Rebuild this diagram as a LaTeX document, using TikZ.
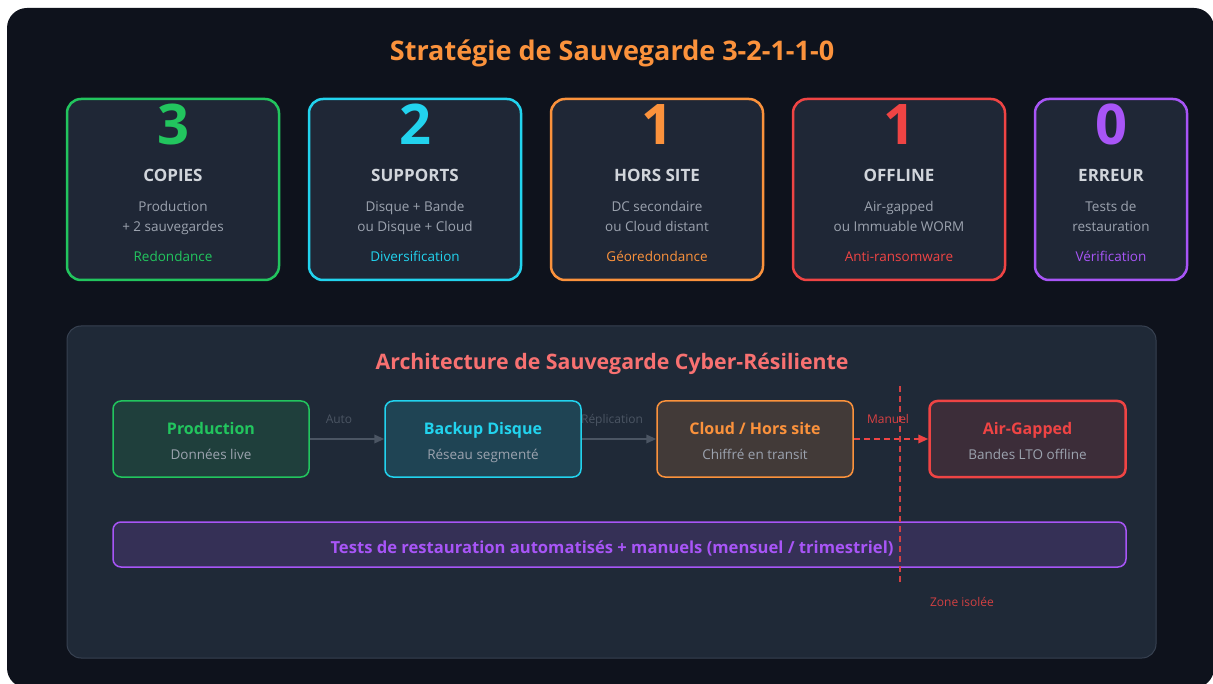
\documentclass[tikz,border=0pt]{standalone}
\usepackage{fontspec}
\setmainfont{Open Sans}
\usetikzlibrary{positioning, arrows.meta, calc}

\definecolor{outerbg}{HTML}{0E121C}
\definecolor{cardbg}{HTML}{1F2736}
\definecolor{panelbg}{HTML}{1F2937}
\definecolor{panelline}{HTML}{374151}
\definecolor{cgreen}{HTML}{22C55E}
\definecolor{ccyan}{HTML}{22D3EE}
\definecolor{corange}{HTML}{FB923C}
\definecolor{cred}{HTML}{EF4444}
\definecolor{cpurple}{HTML}{A855F7}
\definecolor{csalmon}{HTML}{F87171}
\definecolor{headtxt}{HTML}{D1D5DB}
\definecolor{bodytxt}{HTML}{9CA3AF}
\definecolor{flowgray}{HTML}{4B5563}

\begin{document}
\begin{tikzpicture}[
x=1pt, y=-1pt,
    txt/.style={inner sep=0pt, anchor=base},
    card/.style={rectangle, draw, line width=2.5pt, rounded corners=14pt, fill=cardbg, minimum width=212pt, minimum height=181pt},
    bignum/.style={txt, font=\fontsize{56}{60}\selectfont\bfseries},
    cardhead/.style={txt, text=headtxt, font=\fontsize{17}{20}\selectfont\bfseries},
    cardbody/.style={txt, text=bodytxt, font=\fontsize{13.5}{16}\selectfont},
    cardtag/.style={txt, font=\fontsize{13.5}{16}\selectfont},
    flowbox/.style={rectangle, draw, line width=1.5pt, rounded corners=8pt, minimum width=196pt, minimum height=76pt},
    flowtitle/.style={txt, font=\fontsize{16}{19}\selectfont\bfseries},
    flowsub/.style={txt, text=bodytxt, font=\fontsize{13.5}{16}\selectfont},
    flowlabel/.style={txt, font=\fontsize{12}{14}\selectfont},
    flow/.style={draw=flowgray, line width=2pt, -{Triangle[length=10pt, width=8.5pt]}}
]

    % --- Background ---
    \useasboundingbox (0,0) rectangle (1213,684);
    \fill[white] (0,0) rectangle (1213,684);
    \fill[outerbg, rounded corners=20pt] (7,8) rectangle (1214,688);

    % --- Title ---
    \node[txt, text=corange, font=\fontsize{27}{32}\selectfont\bfseries] (title) at (612,61) {Stratégie de Sauvegarde 3-2-1-1-0};

    % --- Rule cards ---
    \node[card, draw=cgreen] (copies) at (173,189.5) {};
    \node[bignum, text=cgreen] (ncopies) at (173,145) {3};
    \node[cardhead] (hcopies) at (173,182) {COPIES};
    \node[cardbody] (acopies) at (173,212) {Production};
    \node[cardbody] (bcopies) at (173,232) {+ 2 sauvegardes};
    \node[cardtag, text=cgreen] (tcopies) at (173,262) {Redondance};

    \node[card, draw=ccyan] (supports) at (415,189.5) {};
    \node[bignum, text=ccyan] (nsupports) at (415,145) {2};
    \node[cardhead] (hsupports) at (415,182) {SUPPORTS};
    \node[cardbody] (asupports) at (415,212) {Disque + Bande};
    \node[cardbody] (bsupports) at (415,232) {ou Disque + Cloud};
    \node[cardtag, text=ccyan] (tsupports) at (415,262) {Diversification};

    \node[card, draw=corange] (offsite) at (657,189.5) {};
    \node[bignum, text=corange] (noffsite) at (657,145) {1};
    \node[cardhead] (hoffsite) at (657,182) {HORS SITE};
    \node[cardbody] (aoffsite) at (657,212) {DC secondaire};
    \node[cardbody] (boffsite) at (657,232) {ou Cloud distant};
    \node[cardtag, text=corange] (toffsite) at (657,262) {Géoredondance};

    \node[card, draw=cred] (offline) at (899,189.5) {};
    \node[bignum, text=cred] (noffline) at (899,145) {1};
    \node[cardhead] (hoffline) at (899,182) {OFFLINE};
    \node[cardbody] (aoffline) at (899,212) {Air-gapped};
    \node[cardbody] (boffline) at (899,232) {ou Immuable WORM};
    \node[cardtag, text=cred] (toffline) at (899,262) {Anti-ransomware};

    \node[card, draw=cpurple, minimum width=152pt] (erreur) at (1111,189.5) {};
    \node[bignum, text=cpurple] (nerreur) at (1111,145) {0};
    \node[cardhead] (herreur) at (1111,182) {ERREUR};
    \node[cardbody] (aerreur) at (1111,212) {Tests de};
    \node[cardbody] (berreur) at (1111,232) {restauration};
    \node[cardtag, text=cpurple] (terreur) at (1111,262) {Vérification};

    % --- Architecture panel ---
    \node[rectangle, draw=panelline, line width=1pt, fill=panelbg, rounded corners=14pt, minimum width=1089pt, minimum height=332pt] (panel) at (611.5,492) {};
    \node[txt, text=csalmon, font=\fontsize{21.3}{25}\selectfont\bfseries] (archtitle) at (612,370) {Architecture de Sauvegarde Cyber-Résiliente};

    % Flow boxes
    \node[flowbox, draw=cgreen, fill=cgreen!14!panelbg] (prod) at (211,439) {};
    \node[flowtitle, text=cgreen] (prodt) at (211,435) {Production};
    \node[flowsub] (prods) at (211,459) {Données live};

    \node[flowbox, draw=ccyan, fill=ccyan!16!panelbg] (disk) at (483,439) {};
    \node[flowtitle, text=ccyan] (diskt) at (483,435) {Backup Disque};
    \node[flowsub] (disks) at (483,459) {Réseau segmenté};

    \node[flowbox, draw=corange, fill=corange!16!panelbg] (cloud) at (755,439) {};
    \node[flowtitle, text=corange] (cloudt) at (755,435) {Cloud / Hors site};
    \node[flowsub] (clouds) at (755,459) {Chiffré en transit};

    \node[flowbox, draw=cred, line width=2.5pt, fill=cred!14!panelbg] (airgap) at (1027.5,439) {};
    \node[flowtitle, text=cred] (airgapt) at (1027.5,435) {Air-Gapped};
    \node[flowsub] (airgaps) at (1027.5,459) {Bandes LTO offline};

    % Restore tests bar
    \node[rectangle, draw=cpurple, line width=1.5pt, fill=cpurple!16!panelbg, rounded corners=8pt, minimum width=1013pt, minimum height=45pt] (tests) at (619.5,544.5) {};
    \node[txt, text=cpurple, font=\fontsize{16.6}{20}\selectfont\bfseries] (testst) at (612,553) {Tests de restauration automatisés + manuels (mensuel / trimestriel)};

    % Connectors
    \draw[flow] (prod.east) -- (disk.west);
    \node[flowlabel, text=flowgray] (auto) at (339,424) {Auto};
    \draw[flow] (disk.east) -- (cloud.west);
    \node[flowlabel, text=flowgray] (repl) at (612,424) {Réplication};
    \draw[flow, draw=cred, dash pattern=on 6pt off 4pt] (cloud.east) -- (airgap.west);
    \node[flowlabel, text=cred!90!panelbg] (manuel) at (888,424) {Manuel};

    % Isolation line
    \coordinate (zonetop) at (900,386);
    \coordinate (zonebot) at (900,582);
    \draw[cred!85!panelbg, line width=1.3pt, dash pattern=on 6pt off 4pt] (zonetop) -- (zonebot);
    \node[flowlabel, text=cred!85!panelbg] (zone) at (962,606.5) {Zone isolée};

\end{tikzpicture}
\end{document}
